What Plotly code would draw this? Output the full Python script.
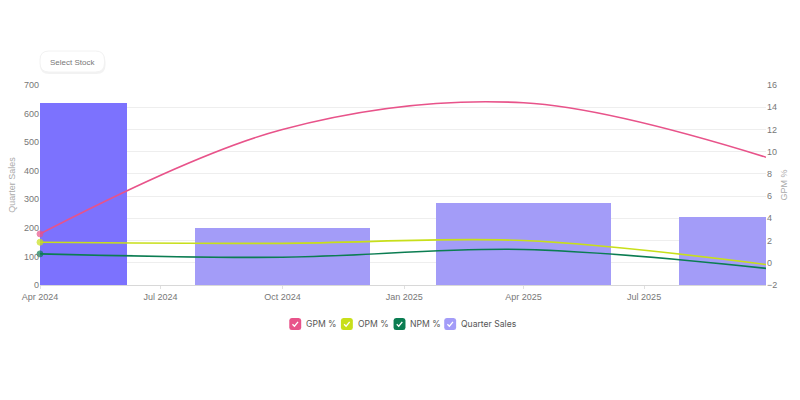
import plotly.graph_objects as go

dates = ["2024-04-01", "2024-10-01", "2025-04-01", "2025-10-01"]
quarter_sales = [636, 200, 286, 239]
gpm = [2.6, 12.0, 14.4, 9.5]
opm = [1.85, 1.75, 2.0, -0.15]
npm = [0.8, 0.5, 1.2, -0.5]

tick_vals = ["2024-04-01", "2024-07-01", "2024-10-01", "2025-01-01", "2025-04-01", "2025-07-01"]
tick_text = ["Apr 2024", "Jul 2024", "Oct 2024", "Jan 2025", "Apr 2025", "Jul 2025"]

series_names = ["GPM %", "OPM %", "NPM %", "Quarter Sales"]

C_GPM = "#e8538a"
C_OPM = "#c8df1a"
C_NPM = "#0b7d52"
C_BAR = "#a39cf8"
C_BAR_ACTIVE = "#7c72fe"

# plot area in pixels
PL, PR, PT, PB = 40, 771, 85, 285


def px(x):
    return (x - PL) / (PR - PL)


def py(y):
    return (PB - y) / (PB - PT)


fig = go.Figure()

bar_colors = [C_BAR_ACTIVE] + [C_BAR] * (len(quarter_sales) - 1)
fig.add_trace(go.Bar(x=dates, y=quarter_sales, name=series_names[3],
                     marker=dict(color=bar_colors, line=dict(width=0)),
                     width=132 * 86400000, yaxis="y", showlegend=False))

for vals, col, nm in [(gpm, C_GPM, series_names[0]), (opm, C_OPM, series_names[1]), (npm, C_NPM, series_names[2])]:
    fig.add_trace(go.Scatter(x=dates, y=vals, name=nm, mode="lines+markers",
                             line=dict(color=col, width=1.6, shape="spline", smoothing=1.0),
                             marker=dict(size=[6] + [0] * (len(vals) - 1), color=col,
                                         line=dict(width=1, color=col)),
                             cliponaxis=False, yaxis="y2", showlegend=False))

fig.update_layout(
    width=800, height=400,
    margin=dict(l=PL, r=800 - PR, t=PT, b=400 - PB),
    paper_bgcolor="white", plot_bgcolor="white",
    font=dict(family="Liberation Sans, Arial, sans-serif", size=9, color="#8a8a8a"),
    bargap=0, showlegend=False,
    xaxis=dict(type="date", range=["2024-04-01", "2025-10-01"],
               tickvals=tick_vals, ticktext=tick_text, showgrid=False,
               showline=True, linecolor="#d8d8d8", linewidth=1,
               ticks="outside", ticklen=3, tickcolor="#e0e0e0",
               tickfont=dict(size=9, color="#777"), zeroline=False),
    yaxis=dict(range=[0, 700], dtick=100, showgrid=False, zeroline=False,
               title=dict(text="Quarter Sales", font=dict(size=9, color="#aaa"), standoff=6),
               tickfont=dict(size=9, color="#777")),
    yaxis2=dict(range=[-2, 16], dtick=2, overlaying="y", side="right",
                showgrid=True, gridcolor="#eeeeee", gridwidth=1, zeroline=False,
                title=dict(text="GPM %", font=dict(size=9, color="#aaa"), standoff=4),
                tickfont=dict(size=9, color="#777")),
)


def rounded_rect(x0, y0, x1, y1, r):
    # pixel coords -> paper path with rounded corners
    return (f"M {px(x0 + r)} {py(y0)} L {px(x1 - r)} {py(y0)} "
            f"Q {px(x1)} {py(y0)} {px(x1)} {py(y0 + r)} "
            f"L {px(x1)} {py(y1 - r)} Q {px(x1)} {py(y1)} {px(x1 - r)} {py(y1)} "
            f"L {px(x0 + r)} {py(y1)} Q {px(x0)} {py(y1)} {px(x0)} {py(y1 - r)} "
            f"L {px(x0)} {py(y0 + r)} Q {px(x0)} {py(y0)} {px(x0 + r)} {py(y0)} Z")


# "Select stock" pill button with soft shadow
fig.add_shape(type="path", xref="paper", yref="paper", path=rounded_rect(40, 53, 106, 74, 9),
              line=dict(width=0), fillcolor="rgba(0,0,0,0.05)", layer="above")
fig.add_shape(type="path", xref="paper", yref="paper", path=rounded_rect(40, 51, 105, 72, 9),
              line=dict(color="#f2f2f2", width=1), fillcolor="white", layer="above")
fig.add_annotation(xref="paper", yref="paper", x=px(72.5), y=py(63), xanchor="center", yanchor="middle",
                   text="Select Stock", showarrow=False,
                   font=dict(size=8, color="#777"))

# custom legend with checkbox swatches
legend_colors = [C_GPM, C_OPM, C_NPM, C_BAR]
legend_x = [291, 343, 396, 447]
LY = 324
S = 12
for name, col, lx in zip(series_names, legend_colors, legend_x):
    fig.add_shape(type="path", xref="paper", yref="paper",
                  path=rounded_rect(lx, LY - S / 2, lx + S, LY + S / 2, 2.5),
                  line=dict(width=0), fillcolor=col, layer="above")
    fig.add_shape(type="path", xref="paper", yref="paper",
                  path=f"M {px(lx + 3.2)} {py(LY + 0.2)} L {px(lx + 5.2)} {py(LY + 2.2)} L {px(lx + 8.8)} {py(LY - 2.2)}",
                  line=dict(color="white", width=1.3), layer="above")
    fig.add_annotation(xref="paper", yref="paper", x=px(lx + S + 3), y=py(LY),
                       xanchor="left", yanchor="middle", text=name, showarrow=False,
                       font=dict(family="Inter, sans-serif", size=8.6, color="#555"))

fig.write_html("out.html")
